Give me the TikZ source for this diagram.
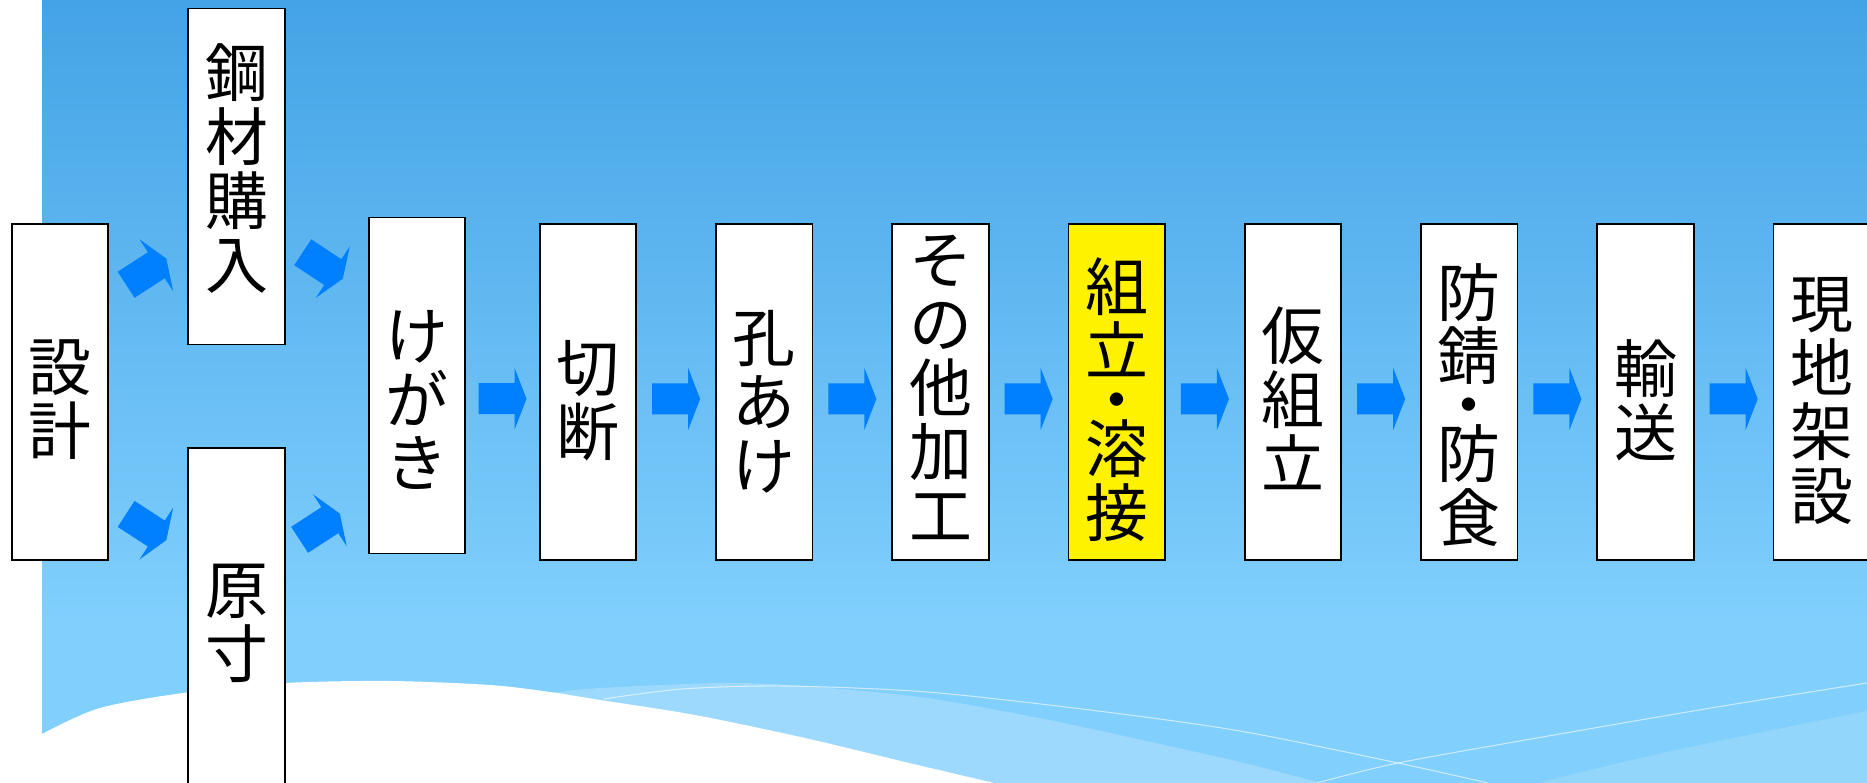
\documentclass[tikz,border=0pt]{standalone}
\usepackage{fontspec}
\newfontfamily\jpfont{Noto Sans CJK JP}
\usetikzlibrary{positioning,calc}

\definecolor{bgtop}{HTML}{44A3E6}
\definecolor{bgbottom}{HTML}{80CFFD}
\definecolor{wavelight}{HTML}{9DD9FC}
\definecolor{waveright}{HTML}{93D6FB}
\definecolor{arrowblue}{HTML}{0080FF}

\tikzset{
  procbox/.style={draw=black, line width=0.5pt, fill=white, minimum width=0.965cm, minimum height=3.36cm, inner sep=0pt},
  boxtext/.style={align=center, inner sep=0pt, font=\jpfont\fontsize{17.9pt}{18.2pt}\selectfont},
  pics/flowarrow/.style={code={
    \fill[arrowblue] (-0.24,-0.155) -- (0.12,-0.155) -- (0.12,-0.31) -- (0.24,0) -- (0.12,0.31) -- (0.12,0.155) -- (-0.24,0.155) -- cycle;
  }}
}

\begin{document}
\begin{tikzpicture}
\useasboundingbox (0,0) rectangle (18.67,-7.83);
\clip (0,0) rectangle (18.67,-7.83);
% Background
\shade[top color=bgtop, bottom color=bgbottom] (0.42,0) rectangle (18.67,-6.2);
\fill[bgbottom] (0.42,-6.19) rectangle (18.67,-7.83);
% Waves
\fill[wavelight] plot[smooth] coordinates {(5.5,-6.93) (6.0,-6.88) (7.22,-6.83) (8.04,-6.86) (9.27,-6.98) (10.49,-7.20) (11.51,-7.42) (12.40,-7.62) (13.21,-7.83)} -- (5.5,-7.83) -- cycle;
\fill[waveright] plot[smooth] coordinates {(15.37,-7.83) (16.76,-7.50) (18.67,-7.11)} -- (18.67,-7.83) -- cycle;
\fill[white] plot[smooth] coordinates {(0.42,-7.34) (1.0,-7.08) (1.9,-6.92) (2.85,-6.83) (3.9,-6.81) (4.9,-6.85) (5.5,-6.92) (6.0,-7.0) (6.95,-7.15) (8.05,-7.38) (9.05,-7.62) (9.94,-7.83)} -- (0.42,-7.83) -- cycle;
\draw[white, opacity=0.6, line width=0.3pt] plot[smooth] coordinates {(6.04,-6.99) (6.82,-6.89) (7.84,-6.86) (9.27,-6.92) (10.90,-7.10) (12.40,-7.31) (13.98,-7.63) (14.88,-7.83)};
\draw[white, opacity=0.6, line width=0.3pt] plot[smooth] coordinates {(13.17,-7.83) (13.98,-7.63) (15.54,-7.35) (17.17,-7.07) (18.67,-6.83)};

% Boxes
\node[procbox, label={[boxtext, yshift=-0.08cm, name=sekkei-t]center:{設\\計}}] (sekkei) at (0.60,-3.92) {};
\node[procbox, label={[boxtext, yshift=0.08cm, name=kouzai-t]center:{鋼\\材\\購\\入}}] (kouzai) at (2.365,-1.765) {};
\node[procbox, label={[boxtext, yshift=-0.07cm, name=gensun-t]center:{原\\寸}}] (gensun) at (2.365,-6.16) {};
\node[procbox, label={[boxtext, yshift=-0.145cm, name=kegaki-t]center:{け\\が\\き}}] (kegaki) at (4.17,-3.855) {};
\node[procbox, label={[boxtext, yshift=-0.085cm, name=setsudan-t]center:{切\\断}}] (setsudan) at (5.88,-3.92) {};
\node[procbox, right=0.78cm of setsudan, label={[boxtext, yshift=-0.10cm, name=anake-t]center:{孔\\あ\\け}}] (anake) {};
\node[procbox, right=0.78cm of anake, label={[boxtext, yshift=0.045cm, name=sonota-t]center:{そ\\の\\他\\加\\工}}] (sonota) {};
\node[procbox, fill=yellow, right=0.78cm of sonota, label={[boxtext, yshift=-0.08cm, name=kumitate-t]center:{組\\立\\[-0.15cm]・\\[-0.15cm]溶\\接}}] (kumitate) {};
\node[procbox, right=0.78cm of kumitate, label={[boxtext, yshift=-0.065cm, name=karikumi-t]center:{仮\\組\\立}}] (karikumi) {};
\node[procbox, right=0.78cm of karikumi, label={[boxtext, yshift=-0.13cm, name=boseki-t]center:{防\\錆\\[-0.15cm]・\\[-0.15cm]防\\食}}] (boseki) {};
\node[procbox, right=0.78cm of boseki, label={[boxtext, yshift=-0.085cm, name=yuso-t]center:{輸\\送}}] (yuso) {};
\node[procbox, right=0.78cm of yuso, label={[boxtext, yshift=-0.09cm, name=genchi-t]center:{現\\地\\架\\設}}] (genchi) {};

% Arrows
\pic[rotate=33] at ($(sekkei.north east)!.5!(kouzai.south west)+(-0.02,0.125)$) {flowarrow};
\pic[rotate=-33] at ($(sekkei.south east)!.5!(gensun.north west)+(-0.02,-0.23)$) {flowarrow};
\pic[rotate=-33.5] at ($(kouzai.south east)!.5!(kegaki.north west)+(-0.04,0.155)$) {flowarrow};
\pic[rotate=33] at ($(gensun.north east)!.5!(kegaki.south west)+(-0.07,-0.26)$) {flowarrow};
\pic at ($(kegaki.east)!.5!(setsudan.west)+(0,-0.10)$) {flowarrow};
\pic at ($(setsudan.east)!.5!(anake.west)+(0,-0.07)$) {flowarrow};
\pic at ($(anake.east)!.5!(sonota.west)+(0,-0.07)$) {flowarrow};
\pic at ($(sonota.east)!.5!(kumitate.west)+(0,-0.07)$) {flowarrow};
\pic at ($(kumitate.east)!.5!(karikumi.west)+(0,-0.07)$) {flowarrow};
\pic at ($(karikumi.east)!.5!(boseki.west)+(0,-0.07)$) {flowarrow};
\pic at ($(boseki.east)!.5!(yuso.west)+(0,-0.07)$) {flowarrow};
\pic at ($(yuso.east)!.5!(genchi.west)+(0,-0.07)$) {flowarrow};
\end{tikzpicture}
\end{document}
